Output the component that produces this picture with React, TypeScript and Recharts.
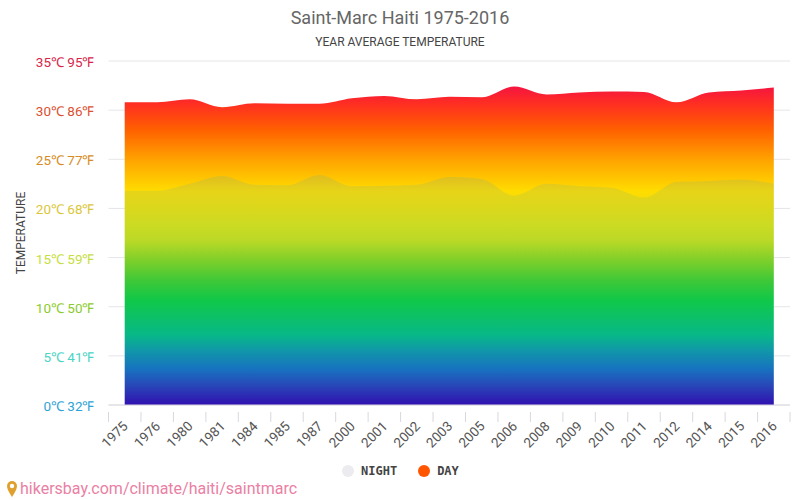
import { AreaChart, Area, XAxis, YAxis, CartesianGrid } from 'recharts';

const years = ['1975', '1976', '1980', '1981', '1984', '1985', '1987', '2000', '2001', '2002', '2003', '2005', '2006', '2008', '2009', '2010', '2011', '2012', '2014', '2015', '2016'];
const dayTemps = [30.8, 30.8, 31.1, 30.3, 30.7, 30.65, 30.65, 31.2, 31.45, 31.1, 31.35, 31.3, 32.4, 31.6, 31.8, 31.9, 31.85, 30.8, 31.8, 32.0, 32.3];
const nightTemps = [21.8, 21.8, 22.5, 23.3, 22.4, 22.35, 23.4, 22.25, 22.3, 22.4, 23.2, 23.0, 21.3, 22.5, 22.25, 22.1, 21.1, 22.7, 22.8, 22.95, 22.5];
const yTicks = [0, 5, 10, 15, 20, 25, 30, 35];
const yLabels = ['0℃ 32℉', '5℃ 41℉', '10℃ 50℉', '15℃ 59℉', '20℃ 68℉', '25℃ 77℉', '30℃ 86℉', '35℃ 95℉'];
const yColors = ['#2ea3d6', '#4cd4c6', '#8ccb2e', '#c6de40', '#dcc63a', '#d68c24', '#dc5030', '#d8244a'];
const legendItems = [
  { name: 'NIGHT', color: '#ececf0' },
  { name: 'DAY', color: '#ff5500' },
];
const rainbow = [
  { at: 0.0, color: '#ee1048' },
  { at: 0.076, color: '#f5153f' },
  { at: 0.128, color: '#ff3020' },
  { at: 0.2, color: '#ff6000' },
  { at: 0.29, color: '#ffa500' },
  { at: 0.378, color: '#ffdc00' },
  { at: 0.477, color: '#d4e018' },
  { at: 0.52, color: '#c0dc20' },
  { at: 0.578, color: '#80d028' },
  { at: 0.637, color: '#40c838' },
  { at: 0.695, color: '#10c848' },
  { at: 0.797, color: '#08b888' },
  { at: 0.84, color: '#1098a8' },
  { at: 0.898, color: '#1870c0' },
  { at: 0.942, color: '#2848b8' },
  { at: 1, color: '#3010b0' },
];

const data = years.map((year, i) => ({ year, day: dayTemps[i], night: nightTemps[i] }));

function XTick({ x, y, payload, index }: any) {
  const half = 16.2;
  return (
    <g>
      <line x1={x - half} x2={x - half} y1={y - 1} y2={y + 9} stroke="#d8d8e0" />
      {index === years.length - 1 && <line x1={x + half} x2={x + half} y1={y - 1} y2={y + 9} stroke="#d8d8e0" />}
      <text
        x={x + 4}
        y={y + 14}
        transform={`rotate(-45 ${x + 4} ${y + 14})`}
        textAnchor="end"
        fontSize={13.5}
        fontFamily="Roboto"
        fill="#555"
      >
        {payload.value}
      </text>
    </g>
  );
}

function YTick({ x, y, index }: any) {
  return (
    <text x={x - 6} y={y + 6} textAnchor="end" fontSize={13.5} fontFamily="Roboto" fill={yColors[index]}>
      {yLabels[index]}
    </text>
  );
}

export default function App() {
  return (
    <div style={{ position: 'absolute', left: 0, top: 0, width: 800, height: 500, background: '#fff', fontFamily: 'Roboto', overflow: 'hidden' }}>
      <div style={{ position: 'absolute', top: 7, width: 800, textAlign: 'center', fontSize: 18, color: '#666' }}>
        Saint-Marc Haiti 1975-2016
      </div>
      <div style={{ position: 'absolute', top: 35, width: 800, textAlign: 'center', fontSize: 12, color: '#444' }}>
        YEAR AVERAGE TEMPERATURE
      </div>
      <AreaChart width={800} height={500} data={data} margin={{ top: 61, right: 10, bottom: 0, left: 0 }}>
        <defs>
          <linearGradient id="rainbow" gradientUnits="userSpaceOnUse" x1="0" y1="61" x2="0" y2="405">
            {rainbow.map((s) => (
              <stop key={s.at} offset={s.at} stopColor={s.color} />
            ))}
          </linearGradient>
          <linearGradient id="nightVeil" gradientUnits="userSpaceOnUse" x1="0" y1="175" x2="0" y2="270">
            <stop offset={0} stopColor="#80b080" stopOpacity={0.24} />
            <stop offset={0.35} stopColor="#80b080" stopOpacity={0.14} />
            <stop offset={1} stopColor="#80b080" stopOpacity={0} />
          </linearGradient>
        </defs>
        <CartesianGrid vertical={false} stroke="#e6e6ea" />
        <XAxis
          dataKey="year"
          scale="point"
          padding={{ left: 16.2, right: 16.2 }}
          interval={0}
          height={95}
          axisLine={{ stroke: '#d8d8e0' }}
          tickLine={false}
          tick={<XTick />}
        />
        <YAxis
          domain={[0, 35]}
          ticks={yTicks}
          width={108.5}
          axisLine={false}
          tickLine={false}
          tick={<YTick />}
        />
        <Area type="monotone" dataKey="day" stroke="none" fill="url(#rainbow)" fillOpacity={1} isAnimationActive={false} dot={false} activeDot={false} />
        <Area type="monotone" dataKey="night" stroke="none" fill="url(#nightVeil)" fillOpacity={1} isAnimationActive={false} dot={false} activeDot={false} />
      </AreaChart>
      <div style={{ position: 'absolute', left: 21, top: 233, fontSize: 12, color: '#444', transform: 'translate(-50%, -50%) rotate(-90deg)', whiteSpace: 'nowrap' }}>
        TEMPERATURE
      </div>
      <div style={{ position: 'absolute', top: 463, left: 342, display: 'flex', fontFamily: '"DejaVu Sans Mono"', fontWeight: 700, fontSize: 12, color: '#444', lineHeight: '16px' }}>
        {legendItems.map((item) => (
          <div key={item.name} style={{ display: 'flex', alignItems: 'center', marginRight: 21 }}>
            <span style={{ width: 12, height: 12, borderRadius: 6, background: item.color, marginRight: 7 }} />
            {item.name}
          </div>
        ))}
      </div>
      <svg style={{ position: 'absolute', left: 6, top: 480 }} width={12} height={18} viewBox="0 0 12 18">
        <path d="M6 1a5 5 0 0 1 5 5c0 4-5 11-5 11S1 10 1 6a5 5 0 0 1 5-5z" fill="#e0a030" />
        <circle cx="6" cy="6" r="2.2" fill="#fff" />
      </svg>
      <div style={{ position: 'absolute', left: 20, top: 479, fontSize: 16, color: '#ea80a4', whiteSpace: 'nowrap' }}>
        hikersbay.com/climate/haiti/saintmarc
      </div>
    </div>
  );
}
